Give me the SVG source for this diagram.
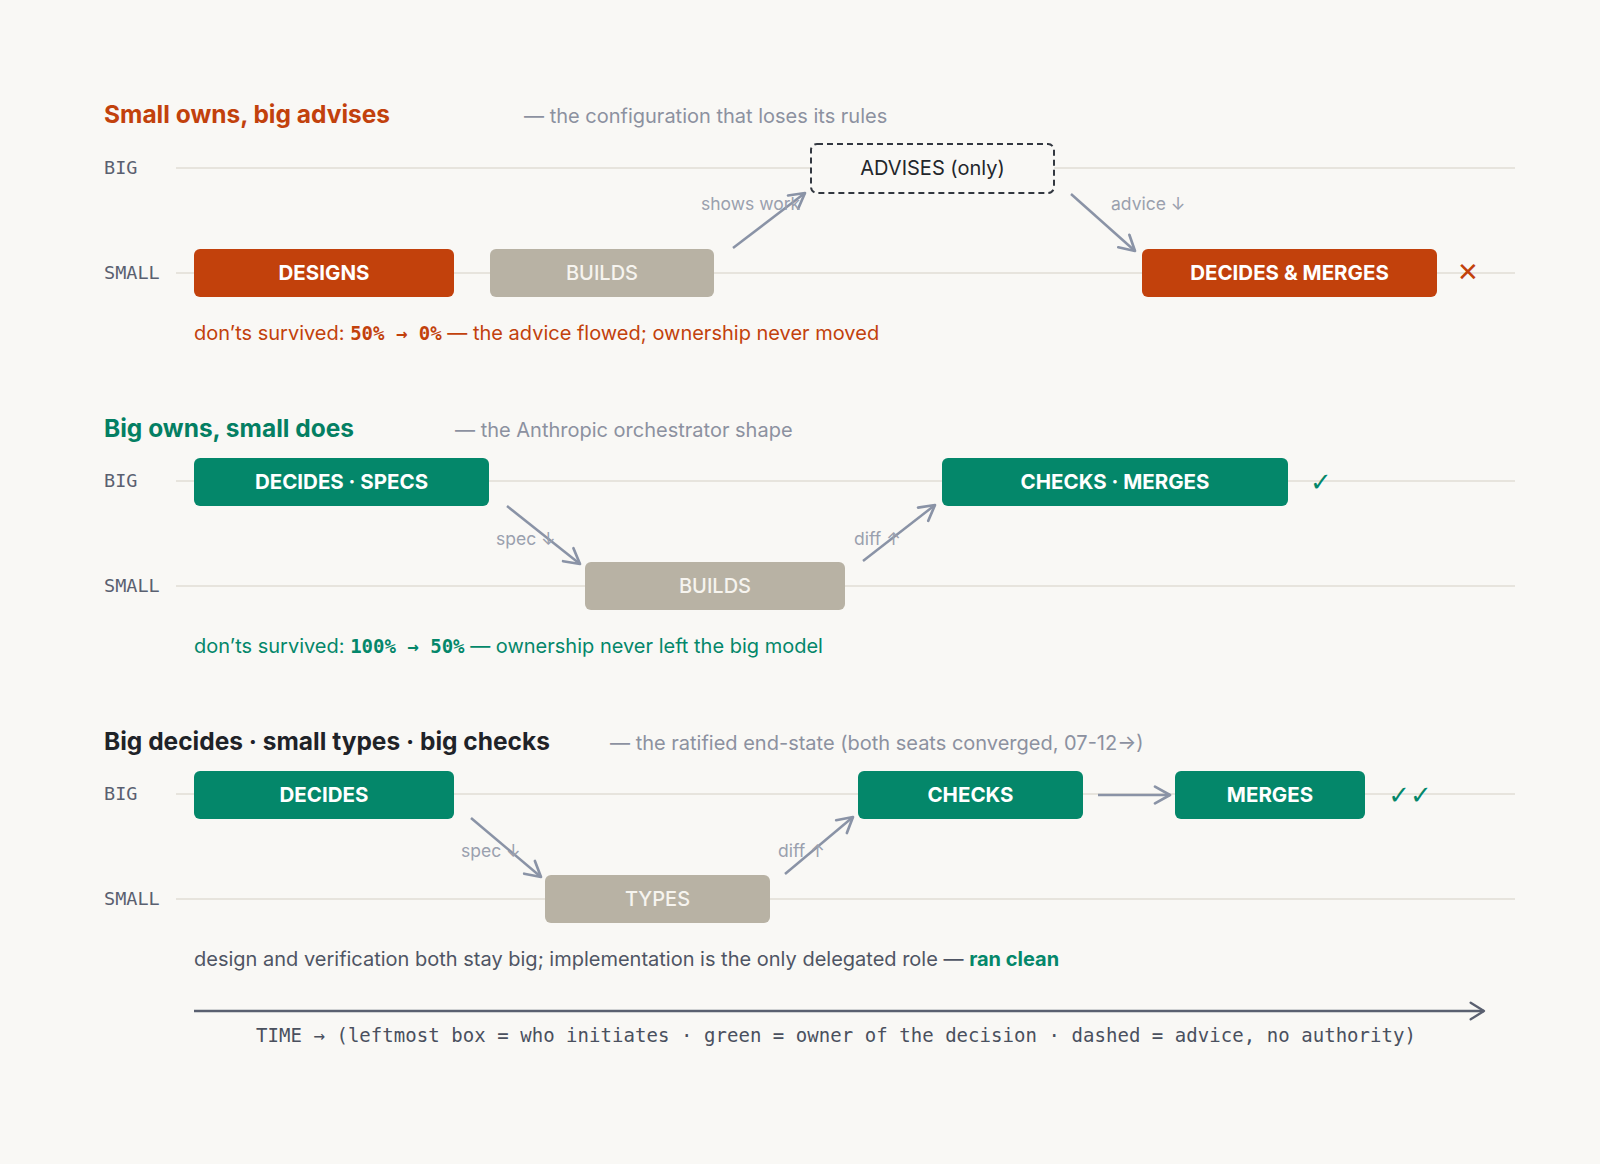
<svg xmlns="http://www.w3.org/2000/svg" width="1600" height="1164" viewBox="0 0 1600 1164">
<defs>
<style>
.bg{fill:#F9F8F5}
.lane{stroke:#E7E4DD;stroke-width:2}
.lbl{font-family:"DejaVu Sans Mono","Liberation Mono",monospace;font-size:18.5px;fill:#5A6070}
.title{font-family:Inter,"Liberation Sans",sans-serif;font-size:24.5px;font-weight:700}
.sub{font-family:Inter,"Liberation Sans",sans-serif;font-size:20px;fill:#8C91A0}
.box{stroke:none}
.own{fill:#C2410C}
.grn{fill:#04876A}
.sml{fill:#B8B2A4}
.bt{font-family:Inter,"Liberation Sans",sans-serif;font-size:20.5px;font-weight:700;fill:#FFFFFF;text-anchor:middle}
.btl{font-family:Inter,"Liberation Sans",sans-serif;font-size:20px;font-weight:500;fill:#F6F4EF;text-anchor:middle}
.adv{fill:#F9F8F5;stroke:#333840;stroke-width:2;stroke-dasharray:6 4}
.advt{font-family:Inter,"Liberation Sans",sans-serif;font-size:20px;fill:#23262B;text-anchor:middle}
.arr{stroke:#8A93A6;stroke-width:2.5;fill:none;marker-end:url(#ah)}
.al{font-family:Inter,"Liberation Sans",sans-serif;font-size:17.5px;fill:#9AA0AE}
.note{font-family:Inter,"Liberation Sans",sans-serif;font-size:20px}
.mono{font-family:"DejaVu Sans Mono","Liberation Mono",monospace;font-weight:700;font-size:19px}
.mark{font-family:"DejaVu Sans",sans-serif;font-size:26px}
</style>
<marker id="ah" viewBox="0 0 12 12" refX="10" refY="6" markerWidth="8" markerHeight="8" markerUnits="strokeWidth" orient="auto">
<path d="M1,1 L10,6 L1,11" fill="none" stroke="#8A93A6" stroke-width="1.6" stroke-linejoin="round" stroke-linecap="round"/>
</marker>
<marker id="th" viewBox="0 0 12 12" refX="10" refY="6" markerWidth="8" markerHeight="8" markerUnits="strokeWidth" orient="auto">
<path d="M2,1 L10,6 L2,11" fill="none" stroke="#5A6070" stroke-width="1.4" stroke-linejoin="round" stroke-linecap="round"/>
</marker>
</defs>
<rect class="bg" x="0" y="0" width="1600" height="1164"/>

<!-- Section 1 -->
<g id="section1">
<text class="title" x="104" y="123" fill="#C2410C">Small owns, big advises</text>
<text class="sub" x="524" y="123">— the configuration that loses its rules</text>
<line class="lane" x1="176" y1="168" x2="1515" y2="168"/>
<line class="lane" x1="176" y1="273" x2="1515" y2="273"/>
<text class="lbl" x="104" y="174">BIG</text>
<text class="lbl" x="104" y="279">SMALL</text>
</g>
<g id="n-designs"><rect class="box own" x="194" y="249" width="260" height="48" rx="6"/><text class="bt" x="324" y="280">DESIGNS</text></g>
<g id="n-builds1"><rect class="box sml" x="490" y="249" width="224" height="48" rx="6"/><text class="btl" x="602" y="280">BUILDS</text></g>
<g id="n-advises"><rect class="adv" x="811" y="144" width="243" height="49" rx="6"/><text class="advt" x="932.5" y="175">ADVISES (only)</text></g>
<g id="n-decmerge"><rect class="box own" x="1142" y="249" width="295" height="48" rx="6"/><text class="bt" x="1289.5" y="280">DECIDES &amp; MERGES</text></g>
<g id="n-x"><text class="mark" x="1468" y="281" fill="#C2410C" text-anchor="middle">✕</text></g>
<text class="note" x="194" y="340" fill="#C2410C">don’ts survived: <tspan class="mono">50% → 0%</tspan> — the advice flowed; ownership never moved</text>

<!-- Section 2 -->
<g id="section2">
<text class="title" x="104" y="437" fill="#047F63">Big owns, small does</text>
<text class="sub" x="455" y="437">— the Anthropic orchestrator shape</text>
<line class="lane" x1="176" y1="481" x2="1515" y2="481"/>
<line class="lane" x1="176" y1="586" x2="1515" y2="586"/>
<text class="lbl" x="104" y="487">BIG</text>
<text class="lbl" x="104" y="592">SMALL</text>
</g>
<g id="n-decspecs"><rect class="box grn" x="194" y="458" width="295" height="48" rx="6"/><text class="bt" x="341.5" y="489">DECIDES · SPECS</text></g>
<g id="n-builds2"><rect class="box sml" x="585" y="562" width="260" height="48" rx="6"/><text class="btl" x="715" y="593">BUILDS</text></g>
<g id="n-checkmerge"><rect class="box grn" x="942" y="458" width="346" height="48" rx="6"/><text class="bt" x="1115" y="489">CHECKS · MERGES</text></g>
<g id="n-check1"><text class="mark" x="1321" y="491" fill="#04876A" text-anchor="middle">✓</text></g>
<text class="note" x="194" y="653" fill="#04876A">don’ts survived: <tspan class="mono">100% → 50%</tspan> — ownership never left the big model</text>

<!-- Section 3 -->
<g id="section3">
<text class="title" x="104" y="750" fill="#1F2328">Big decides · small types · big checks</text>
<text class="sub" x="610" y="750">— the ratified end-state (both seats converged, 07-12→)</text>
<line class="lane" x1="176" y1="794" x2="1515" y2="794"/>
<line class="lane" x1="176" y1="899" x2="1515" y2="899"/>
<text class="lbl" x="104" y="800">BIG</text>
<text class="lbl" x="104" y="905">SMALL</text>
</g>
<g id="n-decides"><rect class="box grn" x="194" y="771" width="260" height="48" rx="6"/><text class="bt" x="324" y="802">DECIDES</text></g>
<g id="n-types"><rect class="box sml" x="545" y="875" width="225" height="48" rx="6"/><text class="btl" x="657.5" y="906">TYPES</text></g>
<g id="n-checks"><rect class="box grn" x="858" y="771" width="225" height="48" rx="6"/><text class="bt" x="970.5" y="802">CHECKS</text></g>
<g id="n-merges"><rect class="box grn" x="1175" y="771" width="190" height="48" rx="6"/><text class="bt" x="1270" y="802">MERGES</text></g>
<g id="n-check2"><text class="mark" x="1410" y="804" fill="#04876A" text-anchor="middle">✓✓</text></g>
<text class="note" x="194" y="966" fill="#4F5564">design and verification both stay big; implementation is the only delegated role — <tspan font-weight="700" fill="#04876A">ran clean</tspan></text>

<!-- Connectors -->
<g id="connectors">
<line class="arr" x1="733" y1="248" x2="805" y2="193"/>
<text class="al" x="701" y="210">shows work</text>
<line class="arr" x1="1071" y1="194" x2="1135" y2="251"/>
<text class="al" x="1111" y="210">advice ↓</text>

<line class="arr" x1="507" y1="506" x2="580" y2="564"/>
<text class="al" x="496" y="545">spec ↓</text>
<line class="arr" x1="863" y1="561" x2="935" y2="505"/>
<text class="al" x="854" y="545">diff ↑</text>

<line class="arr" x1="471" y1="818" x2="541" y2="877"/>
<text class="al" x="461" y="857">spec ↓</text>
<line class="arr" x1="785" y1="874" x2="853" y2="817"/>
<text class="al" x="778" y="857">diff ↑</text>
<line class="arr" x1="1098" y1="795" x2="1170" y2="795"/>

<line x1="194" y1="1011" x2="1484" y2="1011" stroke="#5A6070" stroke-width="2.5" marker-end="url(#th)"/>
</g>
<text x="836" y="1042" text-anchor="middle" font-family="DejaVu Sans Mono, Liberation Mono, monospace" font-size="19" fill="#4A505E" textLength="1160">TIME → (leftmost box = who initiates · green = owner of the decision · dashed = advice, no authority)</text>
</svg>
